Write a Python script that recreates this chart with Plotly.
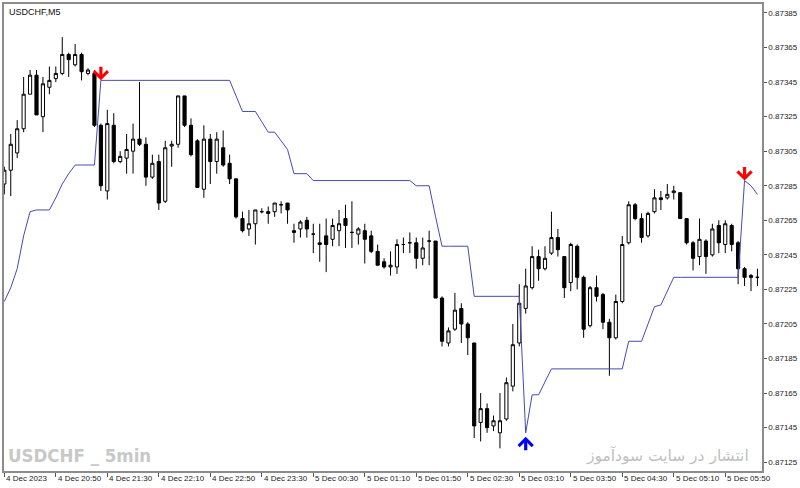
import plotly.graph_objects as go

# ---- data (USDCHF, M5) ----
open_ = [
    0.87286, 0.87294, 0.87304, 0.87318, 0.87338, 0.87349, 0.87325, 0.87342, 0.87347, 0.87350,
    0.87361, 0.87355, 0.87361, 0.87350, 0.87350, 0.87320, 0.87282, 0.87320, 0.87299, 0.87301,
    0.87305, 0.87312, 0.87309, 0.87290, 0.87299, 0.87276, 0.87308, 0.87309, 0.87337, 0.87320,
    0.87311, 0.87283, 0.87312, 0.87299, 0.87307, 0.87298, 0.87289, 0.87266, 0.87260, 0.87263,
    0.87270, 0.87270, 0.87270, 0.87274, 0.87275, 0.87259, 0.87260, 0.87265, 0.87257, 0.87251,
    0.87256, 0.87254, 0.87259, 0.87266, 0.87258, 0.87257, 0.87259, 0.87256, 0.87247, 0.87241,
    0.87238, 0.87238, 0.87251, 0.87252, 0.87252, 0.87243, 0.87253, 0.87253, 0.87220, 0.87194,
    0.87202, 0.87214, 0.87205, 0.87194, 0.87148, 0.87156, 0.87146, 0.87142, 0.87150, 0.87169,
    0.87194, 0.87214, 0.87226, 0.87244, 0.87237, 0.87246, 0.87255, 0.87244, 0.87229, 0.87250,
    0.87232, 0.87204, 0.87226, 0.87222, 0.87206, 0.87197, 0.87218, 0.87252, 0.87274, 0.87266,
    0.87256, 0.87270, 0.87278, 0.87278, 0.87281, 0.87281, 0.87266, 0.87252, 0.87244, 0.87253,
    0.87245, 0.87262, 0.87251, 0.87262, 0.87252, 0.87237, 0.87233, 0.87232,
]
high = [
    0.87296, 0.87315, 0.87323, 0.87348, 0.87352, 0.87352, 0.87348, 0.87354, 0.87354, 0.87371,
    0.87362, 0.87367, 0.87362, 0.87353, 0.87352, 0.87321, 0.87329, 0.87327, 0.87305, 0.87315,
    0.87321, 0.87345, 0.87313, 0.87303, 0.87303, 0.87311, 0.87311, 0.87337, 0.87337, 0.87324,
    0.87312, 0.87320, 0.87315, 0.87316, 0.87317, 0.87303, 0.87289, 0.87270, 0.87271, 0.87271,
    0.87272, 0.87273, 0.87275, 0.87276, 0.87275, 0.87263, 0.87265, 0.87267, 0.87263, 0.87263,
    0.87266, 0.87266, 0.87271, 0.87274, 0.87276, 0.87261, 0.87263, 0.87259, 0.87251, 0.87243,
    0.87247, 0.87254, 0.87255, 0.87258, 0.87255, 0.87255, 0.87259, 0.87253, 0.87221, 0.87203,
    0.87223, 0.87217, 0.87206, 0.87194, 0.87165, 0.87159, 0.87152, 0.87165, 0.87174, 0.87205,
    0.87228, 0.87237, 0.87250, 0.87248, 0.87250, 0.87270, 0.87260, 0.87244, 0.87252, 0.87251,
    0.87233, 0.87227, 0.87233, 0.87223, 0.87208, 0.87222, 0.87256, 0.87276, 0.87275, 0.87269,
    0.87270, 0.87283, 0.87282, 0.87286, 0.87285, 0.87281, 0.87266, 0.87253, 0.87266, 0.87254,
    0.87263, 0.87265, 0.87265, 0.87263, 0.87253, 0.87238, 0.87234, 0.87237,
]
low = [
    0.87280, 0.87279, 0.87301, 0.87316, 0.87338, 0.87326, 0.87316, 0.87338, 0.87345, 0.87349,
    0.87348, 0.87354, 0.87346, 0.87349, 0.87319, 0.87282, 0.87277, 0.87298, 0.87298, 0.87292,
    0.87292, 0.87308, 0.87285, 0.87289, 0.87271, 0.87275, 0.87296, 0.87307, 0.87319, 0.87302,
    0.87284, 0.87278, 0.87286, 0.87292, 0.87296, 0.87286, 0.87266, 0.87258, 0.87256, 0.87251,
    0.87269, 0.87263, 0.87267, 0.87269, 0.87263, 0.87252, 0.87255, 0.87255, 0.87246, 0.87241,
    0.87235, 0.87250, 0.87250, 0.87249, 0.87249, 0.87251, 0.87240, 0.87246, 0.87239, 0.87237,
    0.87233, 0.87234, 0.87246, 0.87246, 0.87237, 0.87239, 0.87239, 0.87220, 0.87192, 0.87192,
    0.87201, 0.87194, 0.87187, 0.87139, 0.87137, 0.87142, 0.87143, 0.87133, 0.87149, 0.87166,
    0.87192, 0.87211, 0.87225, 0.87230, 0.87236, 0.87245, 0.87244, 0.87220, 0.87224, 0.87225,
    0.87197, 0.87203, 0.87218, 0.87202, 0.87175, 0.87196, 0.87217, 0.87251, 0.87265, 0.87252,
    0.87255, 0.87269, 0.87271, 0.87277, 0.87277, 0.87266, 0.87251, 0.87236, 0.87239, 0.87234,
    0.87244, 0.87246, 0.87246, 0.87247, 0.87228, 0.87227, 0.87224, 0.87227,
]
close = [
    0.87294, 0.87309, 0.87318, 0.87338, 0.87349, 0.87326, 0.87344, 0.87346, 0.87350, 0.87361,
    0.87358, 0.87361, 0.87351, 0.87352, 0.87320, 0.87285, 0.87321, 0.87299, 0.87302, 0.87306,
    0.87312, 0.87309, 0.87290, 0.87298, 0.87275, 0.87307, 0.87309, 0.87337, 0.87320, 0.87303,
    0.87284, 0.87312, 0.87299, 0.87312, 0.87297, 0.87289, 0.87267, 0.87259, 0.87263, 0.87271,
    0.87270, 0.87269, 0.87275, 0.87274, 0.87271, 0.87258, 0.87264, 0.87260, 0.87257, 0.87252,
    0.87251, 0.87262, 0.87263, 0.87262, 0.87258, 0.87260, 0.87254, 0.87247, 0.87239, 0.87238,
    0.87239, 0.87251, 0.87251, 0.87252, 0.87243, 0.87249, 0.87253, 0.87220, 0.87195, 0.87201,
    0.87213, 0.87205, 0.87197, 0.87146, 0.87156, 0.87145, 0.87149, 0.87149, 0.87171, 0.87193,
    0.87217, 0.87227, 0.87244, 0.87237, 0.87243, 0.87255, 0.87248, 0.87226, 0.87251, 0.87232,
    0.87202, 0.87226, 0.87221, 0.87206, 0.87197, 0.87218, 0.87251, 0.87274, 0.87266, 0.87255,
    0.87269, 0.87278, 0.87277, 0.87280, 0.87282, 0.87266, 0.87252, 0.87243, 0.87254, 0.87244,
    0.87260, 0.87252, 0.87263, 0.87251, 0.87237, 0.87232, 0.87232, 0.87232,
]
trail = [
    0.87218, 0.87226, 0.87237, 0.87256, 0.87270, 0.87271, 0.87271, 0.87271, 0.87278, 0.87286,
    0.87292, 0.87297, 0.87297, 0.87297, 0.87297, 0.87346, 0.87346, 0.87346, 0.87346, 0.87346,
    0.87346, 0.87346, 0.87346, 0.87346, 0.87346, 0.87346, 0.87346, 0.87346, 0.87346, 0.87346,
    0.87346, 0.87346, 0.87346, 0.87346, 0.87346, 0.87346, 0.87337, 0.87328, 0.87328, 0.87328,
    0.87322, 0.87316, 0.87316, 0.87311, 0.87306, 0.87292, 0.87292, 0.87292, 0.87288, 0.87288,
    0.87288, 0.87288, 0.87288, 0.87288, 0.87288, 0.87288, 0.87288, 0.87288, 0.87288, 0.87288,
    0.87288, 0.87288, 0.87288, 0.87288, 0.87285, 0.87285, 0.87285, 0.87267, 0.87250, 0.87250,
    0.87250, 0.87250, 0.87250, 0.87221, 0.87221, 0.87221, 0.87221, 0.87221, 0.87221, 0.87221,
    0.87221, 0.87142, 0.87164, 0.87164, 0.87172, 0.87179, 0.87179, 0.87179, 0.87179, 0.87179,
    0.87179, 0.87179, 0.87179, 0.87179, 0.87179, 0.87179, 0.87179, 0.87195, 0.87195, 0.87195,
    0.87205, 0.87215, 0.87216, 0.87224, 0.87232, 0.87232, 0.87232, 0.87232, 0.87232, 0.87232,
    0.87232, 0.87232, 0.87232, 0.87232, 0.87232, 0.87288, 0.87285, 0.87280,
]
sell_bars = [15, 115]
buy_bars = [81]
tick_bars = [0, 8, 16, 24, 32, 40, 48, 56, 64, 72, 80, 88, 96, 104, 112]
tick_labels = ["4 Dec 2023", "4 Dec 20:50", "4 Dec 21:30", "4 Dec 22:10", "4 Dec 22:50",
               "4 Dec 23:30", "5 Dec 00:30", "5 Dec 01:10", "5 Dec 01:50", "5 Dec 02:30",
               "5 Dec 03:10", "5 Dec 03:50", "5 Dec 04:30", "5 Dec 05:10", "5 Dec 05:50"]
price_ticks = [0.87125, 0.87145, 0.87165, 0.87185, 0.87205, 0.87225, 0.87245,
               0.87265, 0.87285, 0.87305, 0.87325, 0.87345, 0.87365, 0.87385]
symbol_label = "USDCHF,M5"
watermark_left = "USDCHF _ 5min"
watermark_right = "انتشار در سایت سودآموز"

bars = list(range(len(close)))
FONT = "Liberation Sans, Arial, sans-serif"

fig = go.Figure()
fig.add_trace(go.Candlestick(
    x=bars, open=open_, high=high, low=low, close=close,
    increasing=dict(line=dict(color="black", width=1), fillcolor="white"),
    decreasing=dict(line=dict(color="black", width=1), fillcolor="black"),
    whiskerwidth=0, hoverinfo="skip", showlegend=False))
fig.add_trace(go.Scatter(
    x=bars, y=trail, mode="lines", line=dict(color="#4848b8", width=1),
    hoverinfo="skip", showlegend=False))

for b in sell_bars:
    fig.add_annotation(x=b, y=trail[b], xref="x", yref="y", ax=0, ay=-15, text="",
                       showarrow=True, arrowhead=4, arrowsize=0.85, arrowwidth=3.2,
                       arrowcolor="#ff0000")
for b in buy_bars:
    fig.add_annotation(x=b, y=trail[b], xref="x", yref="y", ax=0, ay=19, text="",
                       showarrow=True, arrowhead=4, arrowsize=0.85, arrowwidth=3.2,
                       arrowcolor="#0000ff", standoff=4)

for b, lab in zip(tick_bars, tick_labels):
    fig.add_annotation(x=b, y=0, xref="x", yref="paper", xanchor="left", yanchor="top",
                       yshift=-1, text=lab, showarrow=False,
                       font=dict(family=FONT, size=8, color="#222222"))

fig.add_annotation(x=0.004, y=1, xref="paper", yref="paper", xanchor="left", yanchor="top",
                   yshift=-1, text=symbol_label, showarrow=False,
                   font=dict(family=FONT, size=9, color="#111111"))
fig.add_annotation(x=0.002, y=0.034, xref="paper", yref="paper", xanchor="left",
                   yanchor="middle", text="<b>" + watermark_left + "</b>", showarrow=False,
                   font=dict(family="DejaVu Sans Condensed, sans-serif",
                             size=18.5, color="#c8c8c8"))
fig.add_annotation(x=0.9855, y=0.034, xref="paper", yref="paper", xanchor="right",
                   yanchor="middle", text=watermark_right, showarrow=False,
                   font=dict(family="DejaVu Sans, sans-serif", size=15.5, color="#c0c0c0"))

fig.update_layout(
    width=800, height=488,
    margin=dict(l=2, r=37, t=2, b=17),
    paper_bgcolor="white", plot_bgcolor="white",
    hovermode=False, showlegend=False,
    xaxis=dict(range=[-0.05, 117.71], showgrid=False, zeroline=False,
               showline=True, linecolor="#8c8c8c", linewidth=1.5, mirror=True,
               ticks="outside", tickvals=tick_bars, ticklen=4, tickcolor="#555555",
               showticklabels=False, rangeslider=dict(visible=False), fixedrange=True),
    yaxis=dict(range=[0.871199, 0.873902], side="right", showgrid=False, zeroline=False,
               showline=True, linecolor="#8c8c8c", linewidth=1.5, mirror=True,
               ticks="outside", tickvals=price_ticks,
               ticktext=[f"{v:.5f}" for v in price_ticks], ticklen=3,
               tickcolor="#555555", tickfont=dict(family=FONT, size=8, color="#222222"),
               fixedrange=True),
)

fig.write_html("out.html", config={"displayModeBar": False})
